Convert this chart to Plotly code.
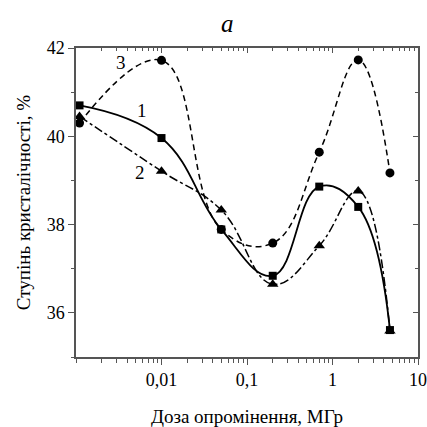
import math
import plotly.graph_objects as go

dose = [0.0011, 0.01, 0.05, 0.2, 0.7, 2.0, 4.7]
s1 = [40.70, 39.96, 37.89, 36.84, 38.86, 38.40, 35.61]
s2 = [40.45, 39.21, 38.33, 36.65, 37.52, 38.76, 35.59]
s3 = [40.30, 41.72, 37.89, 37.58, 39.64, 41.73, 39.17]

xticks = [0.01, 0.1, 1, 10]
xticktext = ["0,01", "0,1", "1", "10"]
yticks = [36, 38, 40, 42]

labels = [("1", 0.0059, 40.58), ("2", 0.0056, 39.17), ("3", 0.0034, 41.67)]

font = "Liberation Serif"
black = "black"
axcol = "#555555"

fig = go.Figure()
fig.add_trace(go.Scatter(x=dose, y=s1, mode="lines+markers",
                         line=dict(color=black, width=1.8, shape="spline", smoothing=1.2),
                         marker=dict(symbol="square", size=8, color=black), cliponaxis=False))
fig.add_trace(go.Scatter(x=dose, y=s2, mode="lines+markers",
                         line=dict(color=black, width=1.5, shape="spline", smoothing=1.2, dash="dashdot"),
                         marker=dict(symbol="triangle-up", size=10, color=black), cliponaxis=False))
fig.add_trace(go.Scatter(x=dose, y=s3, mode="lines+markers",
                         line=dict(color=black, width=1.5, shape="spline", smoothing=1.2, dash="6px,4px"),
                         marker=dict(symbol="circle", size=9, color=black), cliponaxis=False))
# overlay axes for inward mirror ticks
fig.add_trace(go.Scatter(x=[], y=[], xaxis="x2", yaxis="y2", showlegend=False))

for t, xx, yy in labels:
    fig.add_annotation(x=math.log10(xx), y=yy, text=t, showarrow=False, xref="x", yref="y",
                       font=dict(family=font, size=19, color=black))

fig.add_annotation(x=0.444, y=1.0, xref="paper", yref="paper", yshift=25,
                   xanchor="center", yanchor="middle",
                   text="<i>a</i>", showarrow=False,
                   font=dict(family=font, size=25, color=black))

fig.update_layout(
    width=427, height=427,
    margin=dict(l=76, r=9, t=48, b=70, autoexpand=False),
    paper_bgcolor="white", plot_bgcolor="white",
    showlegend=False,
    font=dict(family=font, size=18, color=black),
    xaxis=dict(type="log", range=[-3, 1], tickvals=xticks, ticktext=xticktext,
               ticks="outside", ticklen=6, tickwidth=1.2, tickcolor=axcol,
               minor=dict(dtick="D1", ticks="outside", ticklen=4, tickcolor=axcol),
               showline=True, linecolor=axcol, linewidth=1.5, mirror=True,
               showgrid=False, zeroline=False, automargin=False,
               tickfont=dict(family=font, size=18, color=black),
               title=dict(text="Доза опромінення, МГр", standoff=20,
                          font=dict(family=font, size=19, color=black))),
    yaxis=dict(range=[35, 42], tickvals=yticks,
               ticks="outside", ticklen=6, tickwidth=1.2, tickcolor=axcol,
               minor=dict(dtick=1, ticks="outside", ticklen=3, tickcolor=axcol),
               showline=True, linecolor=axcol, linewidth=1.5, mirror=True,
               showgrid=False, zeroline=False, automargin=False,
               tickfont=dict(family=font, size=18, color=black),
               title=dict(text="Ступінь кристалічності, %", standoff=11,
                          font=dict(family=font, size=19, color=black))),
    xaxis2=dict(type="log", range=[-3, 1], overlaying="x", side="top",
                tickvals=xticks, showticklabels=False,
                ticks="inside", ticklen=5, tickwidth=1.2, tickcolor=axcol,
                minor=dict(dtick="D1", ticks="inside", ticklen=3, tickcolor=axcol),
                showline=False, showgrid=False, zeroline=False),
    yaxis2=dict(range=[35, 42], overlaying="y", side="right",
                tickvals=yticks, showticklabels=False,
                ticks="inside", ticklen=5, tickwidth=1.2, tickcolor=axcol,
                minor=dict(dtick=1, ticks="inside", ticklen=3, tickcolor=axcol),
                showline=False, showgrid=False, zeroline=False),
)

fig.write_html("out.html")
